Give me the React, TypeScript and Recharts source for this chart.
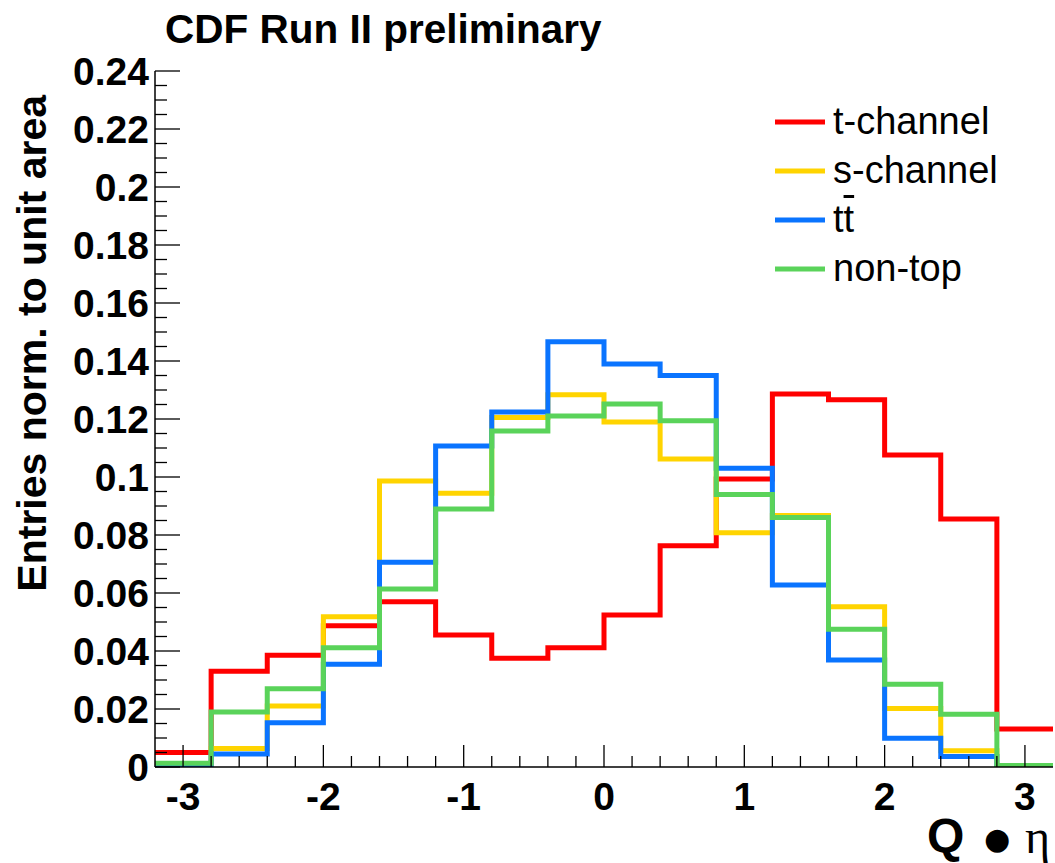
import React from 'react';
import { ComposedChart, Line, XAxis, YAxis, Legend } from 'recharts';

// Bin edges of Q*eta histogram
const binEdges = [-3.2, -2.8, -2.4, -2.0, -1.6, -1.2, -0.8, -0.4, 0.0, 0.4, 0.8, 1.2, 1.6, 2.0, 2.4, 2.8, 3.2];

// Bin contents (normalized to unit area)
const tChannel = [0.005, 0.033, 0.0385, 0.0487, 0.057, 0.0455, 0.0375, 0.0411, 0.0524, 0.0763, 0.0993, 0.1286, 0.1266, 0.1076, 0.0855, 0.0131];
const sChannel = [0.0, 0.0064, 0.021, 0.0518, 0.0986, 0.0944, 0.1205, 0.1284, 0.119, 0.1062, 0.0808, 0.0867, 0.0553, 0.0202, 0.0056, 0.0];
const ttbar = [0.0003, 0.0045, 0.0153, 0.0354, 0.0706, 0.1107, 0.1224, 0.1466, 0.139, 0.135, 0.103, 0.0628, 0.0369, 0.0099, 0.0036, 0.0];
const nonTop = [0.0013, 0.019, 0.027, 0.0411, 0.0614, 0.089, 0.1159, 0.121, 0.1252, 0.1194, 0.094, 0.086, 0.0475, 0.0285, 0.0182, 0.0005];

const seriesNames = ['t-channel', 's-channel', 'tt\u0304', 'non-top'];
const seriesKeys = ['t', 's', 'tt', 'nt'];
const seriesColors = ['#ff0000', '#ffd400', '#0a74ff', '#5ad35a'];

// Axis tick labels
const xMajorTicks = [-3, -2, -1, 0, 1, 2, 3];
const yMajorTicks = [0, 0.02, 0.04, 0.06, 0.08, 0.1, 0.12, 0.14, 0.16, 0.18, 0.2, 0.22, 0.24];

const xMinorTicks: number[] = [];
for (let i = -15; i <= 15; i++) xMinorTicks.push(Math.round(i * 2) / 10);
const yMinorTicks: number[] = [];
for (let i = 0; i <= 48; i++) yMinorTicks.push(Math.round(i * 5) / 1000);

const allSeries = [tChannel, sChannel, ttbar, nonTop];

const data = binEdges.map((edge, i) => {
  const row: Record<string, number> = { x: edge };
  allSeries.forEach((s, k) => {
    row[seriesKeys[k]] = i < s.length ? s[i] : s[s.length - 1];
  });
  return row;
});

const FONT = '"Liberation Sans", Arial, Helvetica, sans-serif';

const isMajor = (v: number, majors: number[]) => majors.some((m) => Math.abs(m - v) < 1e-9);

const XTick = (props: any) => {
  const { x, y, payload } = props;
  const v = payload.value;
  const major = isMajor(v, xMajorTicks);
  return (
    <g>
      <line x1={x} y1={y} x2={x} y2={y - (major ? 22 : 11)} stroke="#000" strokeWidth={1.3} />
      {major && (
        <text x={x} y={y + 43} textAnchor="middle" fontFamily={FONT} fontWeight="bold" fontSize={39} fill="#000">
          {String(v)}
        </text>
      )}
    </g>
  );
};

const YTick = (props: any) => {
  const { x, y, payload } = props;
  const v = payload.value;
  const major = isMajor(v, yMajorTicks);
  return (
    <g>
      <line x1={x} y1={y} x2={x + (major ? 25 : 12)} y2={y} stroke="#000" strokeWidth={1.3} />
      {major && (
        <text x={x - 6} y={y + 14} textAnchor="end" fontFamily={FONT} fontWeight="bold" fontSize={39} fill="#000">
          {String(v)}
        </text>
      )}
    </g>
  );
};

const renderLegend = (props: any) => {
  const payload = [...(props.payload || [])].sort(
    (a: any, b: any) => seriesNames.indexOf(a.value) - seriesNames.indexOf(b.value)
  );
  return (
    <div style={{ fontFamily: FONT, fontSize: 38, color: '#000' }}>
      {payload.map((p: any, i: number) => (
        <div key={i} style={{ display: 'flex', alignItems: 'center', height: 49 }}>
          <svg width={58} height={10} style={{ flex: 'none' }}>
            <line x1={0} y1={5} x2={50} y2={5} stroke={p.color} strokeWidth={5} />
          </svg>
          <span style={{ lineHeight: '49px', whiteSpace: 'nowrap' }}>
            {p.value === 'tt\u0304' ? (
              <>
                t<span style={{ textDecoration: 'overline' }}>t</span>
              </>
            ) : (
              p.value
            )}
          </span>
        </div>
      ))}
    </div>
  );
};

export default function App() {
  return (
    <div style={{ position: 'absolute', left: 0, top: 0, width: 1055, height: 863, background: '#fff' }}>
      <ComposedChart width={1055} height={863} data={data} margin={{ top: 71, right: 2, bottom: 0, left: 0 }}>
        <XAxis
          dataKey="x"
          type="number"
          domain={[-3.2, 3.2]}
          ticks={xMinorTicks}
          interval={0}
          tick={<XTick />}
          tickLine={false}
          tickSize={0}
          tickMargin={0}
          height={96}
          axisLine={{ stroke: '#000', strokeWidth: 1.5 }}
          allowDataOverflow
        />
        <XAxis
          xAxisId="top"
          orientation="top"
          type="number"
          domain={[-3.2, 3.2]}
          tick={false}
          tickLine={false}
          height={0}
          axisLine={{ stroke: '#000', strokeWidth: 1.5 }}
        />
        <YAxis
          type="number"
          domain={[0, 0.24]}
          ticks={yMinorTicks}
          interval={0}
          tick={<YTick />}
          tickLine={false}
          tickSize={0}
          tickMargin={0}
          width={155}
          axisLine={{ stroke: '#000', strokeWidth: 1.5 }}
          allowDataOverflow
        />
        <YAxis
          yAxisId="right"
          orientation="right"
          type="number"
          domain={[0, 0.24]}
          tick={false}
          tickLine={false}
          width={0}
          axisLine={{ stroke: '#000', strokeWidth: 1.5 }}
        />
        <Legend
          layout="horizontal"
          verticalAlign="middle"
          align="center"
          content={renderLegend}
          wrapperStyle={{ left: 775, top: 97, width: 275, height: 200 }}
        />
        {seriesKeys.map((k, i) => (
          <Line
            key={k}
            dataKey={k}
            name={seriesNames[i]}
            type="stepAfter"
            stroke={seriesColors[i]}
            strokeWidth={5}
            strokeLinejoin="miter"
            strokeLinecap="butt"
            dot={false}
            activeDot={false}
            isAnimationActive={false}
          />
        ))}
      </ComposedChart>
      <svg
        width={1055}
        height={863}
        style={{ position: 'absolute', left: 0, top: 0, pointerEvents: 'none' }}
      >
        <text x={165} y={43} fontFamily={FONT} fontWeight="bold" fontSize={40.5} fill="#000">
          CDF Run II preliminary
        </text>
        <text
          x={0}
          y={0}
          transform="translate(46,95) rotate(-90)"
          textAnchor="end"
          fontFamily={FONT}
          fontWeight="bold"
          fontSize={41}
          fill="#000"
        >
          Entries norm. to unit area
        </text>
        <text x={927} y={852} fontFamily={FONT} fontWeight="bold" fontSize={48} fill="#000">
          Q
        </text>
        <text x={997} y={849} textAnchor="middle" fontFamily='"DejaVu Sans", sans-serif' fontSize={30} fill="#000">
          {'\u25CF'}
        </text>
        <text x={1025} y={853} fontFamily='"Liberation Serif", "DejaVu Serif", serif' fontSize={48} fill="#000">
          {'\u03b7'}
        </text>
      </svg>
    </div>
  );
}
